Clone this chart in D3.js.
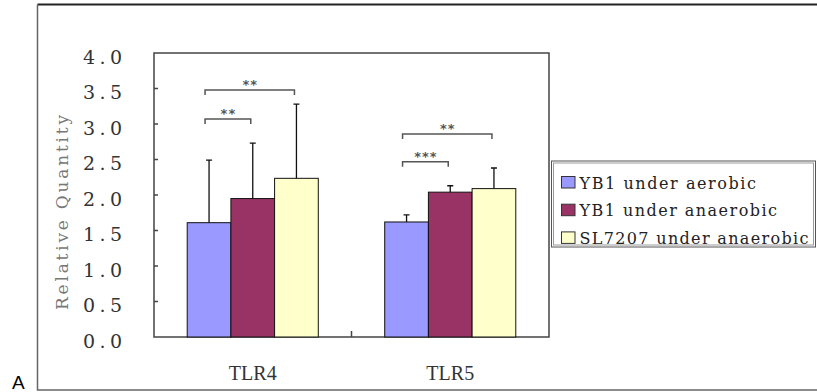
<!DOCTYPE html>
<html>
<head>
<meta charset="utf-8">
<script src="https://cdnjs.cloudflare.com/ajax/libs/d3/7.8.5/d3.min.js"></script>
<style>
  body { margin: 0; background: #fff; }
  text { font-family: "DejaVu Serif", serif; }
</style>
</head>
<body>
<div class="chart"></div>
<script>
// data
const categories = ["TLR4", "TLR5"];
const series = ["YB1 under aerobic", "YB1 under anaerobic", "SL7207 under anaerobic"];
const colors = ["#9999ff", "#993366", "#ffffcc"];
const means = [[1.61, 1.95, 2.235], [1.62, 2.04, 2.09]];
const errors = [[0.88, 0.78, 1.045], [0.10, 0.09, 0.29]];
const yTicks = [0, 0.5, 1.0, 1.5, 2.0, 2.5, 3.0, 3.5, 4.0];
// significance brackets: category, from series, to series, height, label
const brackets = [
  [0, 0, 1, 3.07, "**"],
  [0, 0, 2, 3.48, "**"],
  [1, 0, 1, 2.47, "***"],
  [1, 0, 2, 2.86, "**"]
];

var w = 817, h = 392;
const plot = {left: 154, right: 549, top: 53, bottom: 337};

var svg = d3.select(".chart").append("svg")
  .attr("width", w).attr("height", h);

// outer frame (right side runs off the picture)
svg.append("path")
  .attr("d", `M${w},4.5 H37.5`)
  .attr("stroke", "#222").attr("stroke-width", 2).attr("fill", "none");
svg.append("path")
  .attr("d", `M37.5,4.5 V390 H${w}`)
  .attr("stroke", "#666").attr("stroke-width", 1.5).attr("fill", "none");

svg.append("text")
  .attr("x", 12).attr("y", 389)
  .style("font-family", "'Liberation Sans', Arial, sans-serif")
  .style("font-size", "19px")
  .text("A");

const y = d3.scaleLinear().domain([0, 4]).range([plot.bottom, plot.top]);
const x0 = d3.scaleBand().domain(categories).range([plot.left, plot.right]);
const x1 = d3.scaleBand().domain(d3.range(series.length))
  .range([0, x0.bandwidth()]).paddingOuter(0.76);

const cx = (c, s) => x0(categories[c]) + x1(s) + x1.bandwidth() / 2;

// plot frame
svg.append("rect")
  .attr("x", plot.left).attr("y", plot.top)
  .attr("width", plot.right - plot.left).attr("height", plot.bottom - plot.top)
  .attr("fill", "none").attr("stroke", "#444").attr("stroke-width", 1.5);

// y ticks (inside) and labels
svg.selectAll(".ytick")
  .data(yTicks.slice(1, -1))
  .enter().append("line")
  .attr("x1", plot.left).attr("x2", plot.left + 4)
  .attr("y1", d => y(d)).attr("y2", d => y(d))
  .attr("stroke", "#444").attr("stroke-width", 1.5);

svg.selectAll(".ylab")
  .data(yTicks)
  .enter().append("text")
  .attr("x", 83).attr("y", d => y(d) + 4)
  .attr("dy", "0.36em")
  .attr("textLength", 39).attr("lengthAdjust", "spacing")
  .attr("fill", "#333")
  .style("font-size", "19px")
  .text(d => d3.format(".1f")(d));

svg.append("text")
  .attr("transform", "translate(68,310) rotate(-90)")
  .attr("textLength", 195).attr("lengthAdjust", "spacing")
  .attr("fill", "#777")
  .style("font-size", "17px")
  .text("Relative Quantity");

// category separator tick
svg.append("line")
  .attr("x1", x0(categories[1])).attr("x2", x0(categories[1]))
  .attr("y1", plot.bottom).attr("y2", plot.bottom - 6)
  .attr("stroke", "#444").attr("stroke-width", 1.5);

svg.selectAll(".xlab")
  .data(categories)
  .enter().append("text")
  .attr("x", d => x0(d) + x0.bandwidth() / 2)
  .attr("y", 380)
  .attr("text-anchor", "middle")
  .attr("fill", "#333")
  .style("font-family", "'Liberation Serif', serif")
  .style("font-size", "20px")
  .text(d => d);

// bars
const g = svg.selectAll(".group")
  .data(categories)
  .enter().append("g")
  .attr("transform", d => `translate(${x0(d)},0)`);

g.selectAll("rect")
  .data((d, i) => means[i].map((v, s) => ({v: v, s: s})))
  .enter().append("rect")
  .attr("x", d => x1(d.s))
  .attr("width", x1.bandwidth())
  .attr("y", d => y(d.v))
  .attr("height", d => y(0) - y(d.v))
  .attr("fill", d => colors[d.s])
  .attr("stroke", "#111").attr("stroke-width", 1);

// error bars (upper only)
g.selectAll(".err")
  .data((d, i) => means[i].map((v, s) => ({v: v, e: errors[i][s], s: s})))
  .enter().append("path")
  .attr("d", d => {
    const xc = x1(d.s) + x1.bandwidth() / 2;
    return `M${xc},${y(d.v)} V${y(d.v + d.e)} M${xc - 3},${y(d.v + d.e)} H${xc + 3}`;
  })
  .attr("stroke", "#111").attr("stroke-width", 1.3).attr("fill", "none");

// significance brackets
svg.selectAll(".br")
  .data(brackets)
  .enter().append("path")
  .attr("d", d => {
    const a = cx(d[0], d[1]) - 4, b = cx(d[0], d[2]) - 2, yy = y(d[3]);
    return `M${a},${yy + 5} V${yy} H${b} V${yy + 5}`;
  })
  .attr("stroke", "#555").attr("stroke-width", 1.5).attr("fill", "none");

svg.selectAll(".star")
  .data(brackets)
  .enter().append("text")
  .attr("x", d => (cx(d[0], d[1]) - 4 + cx(d[0], d[2]) - 2) / 2)
  .attr("y", d => y(d[3]) - 1)
  .attr("text-anchor", "middle")
  .attr("fill", "#555")
  .style("font-family", "'DejaVu Sans Mono', monospace")
  .style("font-size", "13px")
  .style("font-weight", "bold")
  .text(d => d[4]);

// legend
svg.append("rect")
  .attr("x", 551.5).attr("y", 161).attr("width", 264).attr("height", 86)
  .attr("fill", "#fff").attr("stroke", "#555");
svg.append("rect")
  .attr("x", 553.5).attr("y", 163).attr("width", 260).attr("height", 82)
  .attr("fill", "none").attr("stroke", "#999");

const leg = svg.selectAll(".leg")
  .data(series)
  .enter().append("g")
  .attr("transform", (d, i) => `translate(561.5,${176.5 + i * 27.7})`);

leg.append("rect")
  .attr("width", 13.5).attr("height", 11.5)
  .attr("fill", (d, i) => colors[i])
  .attr("stroke", "#333");

leg.append("text")
  .attr("x", 18).attr("y", 12)
  .attr("textLength", d => d.length * 10.5 - 2).attr("lengthAdjust", "spacing")
  .attr("fill", "#222")
  .style("font-size", "16px")
  .text(d => d);
</script>
</body>
</html>
